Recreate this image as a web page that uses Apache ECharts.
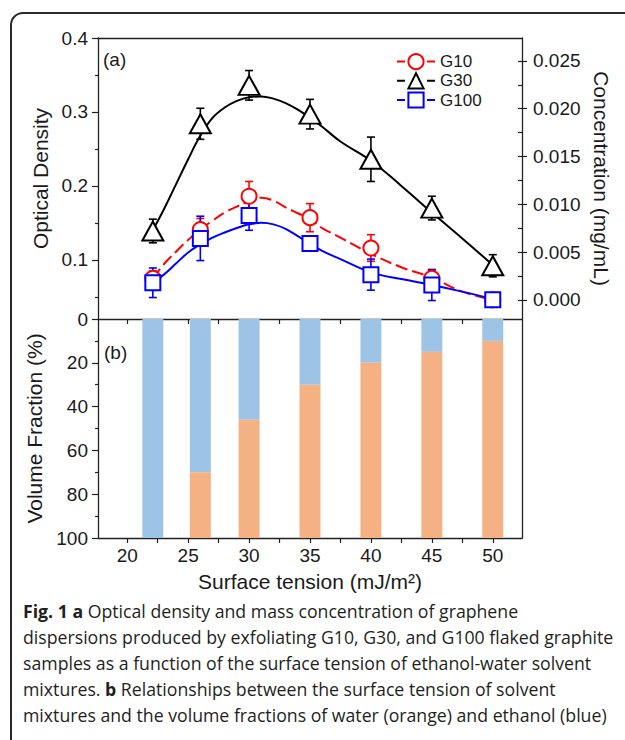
<!DOCTYPE html>
<html><head><meta charset="utf-8">
<script src="https://cdn.jsdelivr.net/npm/echarts@6/dist/echarts.min.js"></script>
<style>html,body{margin:0;padding:0;background:#fff}#c{width:625px;height:740px}</style>
</head><body><div id="c"></div>
<script>
// ---- data ----
const tension = [22.1, 26, 30, 35, 40, 45, 50];
const g10 = [0.075, 0.141, 0.186, 0.157, 0.116, 0.075, 0.046];
const g10Err = [0.010, 0.015, 0.020, 0.019, 0.018, 0.011, 0.005];
const g30 = [0.139, 0.284, 0.336, 0.297, 0.236, 0.170, 0.092];
const g30Err = [0.016, 0.021, 0.020, 0.020, 0.030, 0.016, 0.015];
const g100 = [0.069, 0.129, 0.160, 0.122, 0.080, 0.066, 0.046];
const g100Err = [0.020, 0.030, 0.020, 0.008, 0.021, 0.021, 0.005];
const fitX = [22.1, 23, 24, 25, 26, 27, 28, 29, 30, 31, 32, 33, 34, 35, 36, 37.5, 40, 42.5, 45, 47.5, 50];
const g10Fit = [0.075, 0.094, 0.111, 0.127, 0.141, 0.153, 0.164, 0.172, 0.179, 0.184, 0.180, 0.171, 0.163, 0.155, 0.143, 0.130, 0.108, 0.090, 0.076, 0.057, 0.046];
const g30Fit = [0.140, 0.168, 0.202, 0.236, 0.268, 0.292, 0.306, 0.315, 0.320, 0.321, 0.318, 0.312, 0.303, 0.292, 0.280, 0.260, 0.234, 0.200, 0.164, 0.129, 0.093];
const g100Fit = [0.069, 0.080, 0.095, 0.110, 0.121, 0.130, 0.137, 0.143, 0.148, 0.150, 0.148, 0.142, 0.132, 0.122, 0.112, 0.101, 0.083, 0.074, 0.066, 0.057, 0.047];
const ethanolPct = [100, 70, 46, 30, 20, 15, 10];
const xTickLabels = [20, 25, 30, 35, 40, 45, 50];
const xTicksAll = [20, 22.5, 25, 27.5, 30, 32.5, 35, 37.5, 40, 42.5, 45, 47.5, 50];
const odTicks = [0.1, 0.2, 0.3, 0.4];
const odMinor = [0.05, 0.15, 0.25, 0.35];
const concTicks = [0, 0.005, 0.010, 0.015, 0.020, 0.025];
const concAll = [0, 0.0025, 0.005, 0.0075, 0.010, 0.0125, 0.015, 0.0175, 0.020, 0.0225, 0.025];
const captionLines = [
  '{b|Fig. 1 a} Optical density and mass concentration of graphene',
  'dispersions produced by exfoliating G10, G30, and G100 flaked graphite',
  'samples as a function of the surface tension of ethanol-water solvent',
  'mixtures. {b|b} Relationships between the surface tension of solvent',
  'mixtures and the volume fractions of water (orange) and ethanol (blue)'
];

const FONT = 'Liberation Sans';
const AX = '#222';
const RED = '#ff0000', BLACK = '#000000', BLUE = '#0000ff';
const ETH = '#9dc3e6', WAT = '#f4b183';
const XMIN = 17.6, XMAX = 52.4;

const chart = echarts.init(document.getElementById('c'), null, {renderer: 'svg'});
const lineAx = {show: true, onZero: false, lineStyle: {color: AX, width: 1.3}};
const lbl = {color: '#1a1a1a', fontFamily: FONT, fontSize: 19};
const ttl = {color: '#1a1a1a', fontFamily: FONT, fontSize: 21};

function pts(xs, ys) { return xs.map((x, i) => [x, ys[i]]); }
function errData(ys, es) { return tension.map((x, i) => [x, ys[i], es[i]]); }
function errSeries(name, ys, es, color) {
  return {
    type: 'custom', name: name + ' err', xAxisIndex: 0, yAxisIndex: 0, z: 3,
    data: errData(ys, es),
    renderItem: function (params, api) {
      const x = api.value(0), y = api.value(1), e = api.value(2);
      const p1 = api.coord([x, y + e]), p2 = api.coord([x, y - e]);
      const c = 4, st = {stroke: color, lineWidth: 1.6};
      return {type: 'group', children: [
        {type: 'line', shape: {x1: p1[0], y1: p1[1], x2: p2[0], y2: p2[1]}, style: st},
        {type: 'line', shape: {x1: p1[0] - c, y1: p1[1], x2: p1[0] + c, y2: p1[1]}, style: st},
        {type: 'line', shape: {x1: p2[0] - c, y1: p2[1], x2: p2[0] + c, y2: p2[1]}, style: st}
      ]};
    }
  };
}
function fitSeries(name, ys, color, type) {
  return {type: 'line', name: name + ' fit', xAxisIndex: 0, yAxisIndex: 0, z: 2,
    data: pts(fitX, ys), smooth: 0.4, symbol: 'none', silent: true,
    lineStyle: {color: color, width: 2, type: type}};
}
function markSeries(name, ys, color, symbol, size) {
  return {type: 'line', name: name, xAxisIndex: 0, yAxisIndex: 0, z: 5,
    data: pts(tension, ys), symbol: symbol, symbolSize: size, showSymbol: true,
    itemStyle: {color: color, borderWidth: 2},
    lineStyle: {color: color, width: 2, type: [8, 22], opacity: 0}};
}

const option = {
  animation: false,
  backgroundColor: '#fff',
  grid: [
    {left: 98, top: 38, width: 424, height: 281},
    {left: 98, top: 319, width: 424, height: 219}
  ],
  legend: {
    data: ['G10', 'G30', 'G100'], orient: 'vertical', left: 396, top: 53,
    itemWidth: 38, itemHeight: 19, itemGap: 2, padding: 0,
    textStyle: {color: '#1a1a1a', fontFamily: FONT, fontSize: 17},
    lineStyle: {opacity: 1}
  },
  xAxis: [
    {gridIndex: 0, type: 'value', min: XMIN, max: XMAX, position: 'bottom',
      axisLine: lineAx, axisTick: {show: true, inside: false, length: 5, customValues: xTicksAll, lineStyle: {color: AX, width: 1.2}},
      axisLabel: {show: false}, splitLine: {show: false}},
    {gridIndex: 0, type: 'value', min: XMIN, max: XMAX, position: 'top',
      axisLine: lineAx, axisTick: {show: false}, axisLabel: {show: false}, splitLine: {show: false}},
    {gridIndex: 1, type: 'value', min: XMIN, max: XMAX, position: 'bottom',
      axisLine: lineAx, axisTick: {show: true, inside: false, length: 5, customValues: xTicksAll, lineStyle: {color: AX, width: 1.2}},
      axisLabel: Object.assign({customValues: xTickLabels, margin: 8}, lbl), splitLine: {show: false},
      name: 'Surface tension (mJ/m²)', nameLocation: 'middle', nameGap: 33, nameTextStyle: ttl}
  ],
  yAxis: [
    {gridIndex: 0, type: 'value', min: 0.02, max: 0.4, position: 'left',
      axisLine: lineAx, axisTick: {show: true, inside: false, length: 6, customValues: odTicks, lineStyle: {color: AX, width: 1.2}},
      axisLabel: Object.assign({customValues: odTicks, margin: 10}, lbl), splitLine: {show: false},
      name: 'Optical Density', nameLocation: 'middle', nameGap: 43, nameTextStyle: ttl},
    {gridIndex: 0, type: 'value', min: 0.02, max: 0.4, position: 'left',
      axisLine: {show: false}, axisTick: {show: true, inside: false, length: 3, customValues: odMinor, lineStyle: {color: AX, width: 1.2}},
      axisLabel: {show: false}, splitLine: {show: false}},
    {gridIndex: 0, type: 'value', min: -0.002, max: 0.0274, position: 'right',
      axisLine: lineAx, axisTick: {show: true, inside: false, length: 5, customValues: concTicks, lineStyle: {color: AX, width: 1.2}},
      axisLabel: Object.assign({customValues: concTicks, margin: 11, formatter: v => v.toFixed(3)}, lbl), splitLine: {show: false},
      name: 'Concentration (mg/mL)', nameLocation: 'middle', nameGap: 66, nameRotate: -90, nameTextStyle: ttl},
    {gridIndex: 0, type: 'value', min: -0.002, max: 0.0274, position: 'right',
      axisLine: {show: false}, axisTick: {show: true, inside: true, length: 4, customValues: concAll, lineStyle: {color: AX, width: 1.2}},
      axisLabel: {show: false}, splitLine: {show: false}},
    {gridIndex: 1, type: 'value', min: 0, max: 100, interval: 20, inverse: true, position: 'left',
      axisLine: lineAx, axisTick: {show: true, inside: false, length: 6, lineStyle: {color: AX, width: 1.2}},
      minorTick: {show: true, splitNumber: 2, length: 3, lineStyle: {color: AX, width: 1.2}},
      axisLabel: Object.assign({margin: 10}, lbl), splitLine: {show: false}, minorSplitLine: {show: false},
      name: 'Volume Fraction (%)', nameLocation: 'middle', nameGap: 49, nameTextStyle: ttl},
    {gridIndex: 1, type: 'value', min: 0, max: 100, inverse: true, position: 'right',
      axisLine: lineAx, axisTick: {show: false}, axisLabel: {show: false}, splitLine: {show: false}}
  ],
  series: [
    {type: 'custom', name: 'fractions', xAxisIndex: 2, yAxisIndex: 4, z: 2,
      data: tension.map((t, i) => [t, ethanolPct[i]]),
      renderItem: function (params, api) {
        const x = api.value(0), e = api.value(1);
        const top = api.coord([x, 0]), mid = api.coord([x, e]), bot = api.coord([x, 100]);
        const w = api.size([1.72, 0])[0];
        return {type: 'group', children: [
          {type: 'rect', shape: {x: top[0] - w / 2, y: top[1], width: w, height: mid[1] - top[1]}, style: {fill: ETH}},
          {type: 'rect', shape: {x: top[0] - w / 2, y: mid[1], width: w, height: bot[1] - mid[1]}, style: {fill: WAT}}
        ]};
      }},
    fitSeries('G30', g30Fit, BLACK, 'solid'),
    fitSeries('G10', g10Fit, RED, [12, 5]),
    fitSeries('G100', g100Fit, BLUE, 'solid'),
    errSeries('G30', g30, g30Err, BLACK),
    errSeries('G10', g10, g10Err, RED),
    errSeries('G100', g100, g100Err, BLUE),
    markSeries('G30', g30, BLACK, 'emptyTriangle', [21, 19]),
    markSeries('G10', g10, RED, 'emptyCircle', 15),
    markSeries('G100', g100, BLUE, 'emptyRect', 15)
  ],
  graphic: [
    {type: 'rect', silent: true, shape: {x: 11, y: 13, width: 700, height: 800, r: 12},
      style: {fill: 'none', stroke: '#2a2a2a', lineWidth: 2}},
    {type: 'text', x: 103, y: 59, silent: true,
      style: {text: '(a)', fontFamily: FONT, fontSize: 19, fill: '#1a1a1a', verticalAlign: 'middle'}},
    {type: 'text', x: 104, y: 352, silent: true,
      style: {text: '(b)', fontFamily: FONT, fontSize: 19, fill: '#1a1a1a', verticalAlign: 'middle'}}
  ].concat(captionLines.map((t, i) => ({
    type: 'text', x: 23, y: 611 + i * 26, silent: true,
    style: {text: t, fontFamily: 'Open Sans', fontSize: 17.7, fill: '#231f20', verticalAlign: 'middle',
      rich: {b: {fontFamily: 'Open Sans', fontSize: 17.7, fontWeight: 'bold', fill: '#231f20'}}}
  })))
};
chart.setOption(option);
</script></body></html>
